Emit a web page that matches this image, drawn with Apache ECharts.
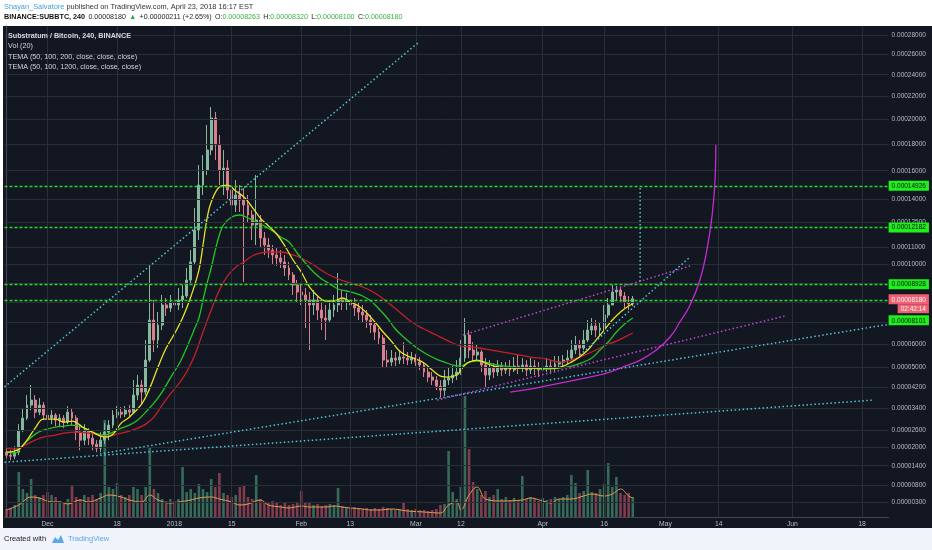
<!DOCTYPE html>
<html><head><meta charset="utf-8">
<script src="https://cdn.jsdelivr.net/npm/echarts@6/dist/echarts.min.js"></script>
<style>html,body{margin:0;padding:0;background:#fff}#c{width:932px;height:550px}</style>
</head><body><div id="c"></div>
<script>
// ================= DATA (prices in satoshi = 1e-8 BTC) =================
const firstDay = '2017-11-21';
const nDays = 216;                       // Nov 21 2017 .. Jun 23 2018
// daily candles from 2017-11-21 to 2018-04-23
const open = [1839,1741,1708,1839,2590,3022,3505,3694,3242,3505,3132,3022,3132,2949,3022,2877,3242,3022,2521,2245,2590,2314,2109,1973,2245,2521,2770,3132,3242,3169,3315,3242,3888,4282,4004,5315,7128,6196,6892,7865,7715,8015,7865,8115,8320,9157,10146,12029,14980,16048,17546,20128,17937,16048,16196,14632,13622,14292,13952,13622,12972,12340,12650,11543,11126,10830,10544,10372,10146,9810,9428,8893,8525,8372,8115,7865,8115,7615,7226,7128,7615,7865,8115,8015,8115,7865,7715,7518,7372,7128,6892,6564,6288,5315,5231,5402,5315,5446,5402,5315,5402,5231,5105,4812,4606,4482,4241,4081,4482,4564,4688,4812,5402,6426,5751,5533,5664,5105,4688,4978,4812,5062,4894,4978,4894,5062,4978,5105,4894,5062,4978,4894,5020,5062,4978,5147,5231,5315,5402,5751,5974,5840,6196,6656,6845,6656,6750,7372,7865,8525,8628,8320,8015,7915];
const high = [1973,1905,2041,2805,3391,3888,4282,3888,3771,3620,3242,3315,3205,3169,3132,3467,3391,3132,2770,2805,2662,2487,2245,2521,2841,2949,3315,3467,3429,3467,3505,4482,4688,4482,6196,9866,8115,7518,8372,8218,8372,8628,8734,8893,9810,10830,13425,16417,17166,19544,21068,20636,18729,17546,16786,15688,15328,14980,14771,14292,13293,15688,12972,11907,11543,11126,10948,10830,10544,10146,9590,9157,8893,8734,8525,8628,8372,8015,7865,8115,8372,9536,8628,8474,8372,8218,8015,7865,7615,7372,7034,6750,6426,5751,5751,5664,5751,6107,5664,5664,5577,5446,5231,4978,4812,4647,4482,4894,5020,5062,5315,6196,7226,6656,6107,5974,5751,5402,5315,5189,5315,5231,5231,5315,5446,5533,5402,5315,5402,5315,5231,5315,5402,5315,5489,5489,5533,5751,6196,6380,6196,6656,7128,7226,7128,7034,7865,8218,8893,8840,8787,8525,8320,8320];
const low = [1643,1577,1610,1741,2521,2949,3315,3022,3132,2949,2805,2805,2734,2698,2662,2805,2770,2245,1905,2075,2075,1905,1839,1839,2109,2245,2662,3022,3022,3059,3022,3169,3694,3505,3888,5231,5664,5840,6656,7323,7518,7518,7615,7715,8218,8893,9978,11421,14292,15688,17166,16786,14980,14292,13952,9810,13164,13164,9051,12526,11421,11126,10948,10544,10372,9978,9922,9810,9374,9157,8372,8015,7865,6750,5751,7372,7128,6656,6196,7034,7274,7518,7615,7615,7518,7323,7128,7034,6750,6518,6196,5974,5020,5020,5062,5062,5147,5147,5105,5147,5062,4894,4606,4402,4282,4081,3810,3849,4282,4362,4482,4688,5231,5402,5231,5315,4812,4201,4482,4564,4647,4647,4730,4647,4812,4730,4812,4647,4730,4688,4606,4730,4812,4730,4812,4978,5062,5147,5315,5577,5489,5751,6107,6426,6334,6380,6656,7226,7865,8115,7965,7715,7615,7815];
const close = [1741,1708,1839,2590,3022,3505,3694,3242,3505,3132,3022,3132,2949,3022,2877,3242,3022,2521,2245,2590,2314,2109,1973,2245,2521,2770,3132,3242,3169,3315,3242,3888,4282,4004,5315,7128,6196,6892,7865,7715,8015,7865,8115,8320,9157,10146,12029,14980,16048,17546,20128,17937,16048,16196,14632,13622,14292,13952,13622,12972,12340,12650,11543,11126,10830,10544,10372,10146,9810,9428,8893,8525,8372,8115,7865,8115,7615,7226,7128,7615,7865,8115,8015,8115,7865,7715,7518,7372,7128,6892,6564,6288,5315,5231,5402,5315,5446,5402,5315,5402,5231,5105,4812,4606,4482,4241,4081,4482,4564,4688,4812,5402,6426,5751,5533,5664,5105,4688,4978,4812,5062,4894,4978,4894,5062,4978,5105,4894,5062,4978,4894,5020,5062,4978,5147,5231,5315,5402,5751,5974,5840,6196,6656,6845,6656,6750,7372,7865,8525,8628,8320,8015,7915,8180];
const volume = [8,9,12,45,28,24,38,22,20,22,25,22,20,16,14,18,31,20,18,22,20,22,18,24,97,30,28,34,22,20,22,30,28,22,30,70,28,24,18,16,18,16,18,50,25,28,24,33,28,25,38,30,44,24,22,20,22,30,32,20,18,42,18,15,14,16,14,12,14,12,13,15,26,15,14,12,13,11,12,13,12,29,11,10,9,10,9,8,9,8,9,8,10,9,8,7,8,14,8,7,8,7,7,6,7,8,12,13,66,25,18,30,121,68,35,28,22,26,20,22,28,18,20,17,19,16,41,18,20,18,16,19,17,18,20,18,20,22,42,34,24,26,47,25,24,28,33,54,30,40,24,22,24,20];
// Vol(20) moving average, [day index, value]
const volMA = [[0,7],[3,12],[6,20],[8,19],[11,15],[13,15],[15,13],[18,17],[20,15],[23,19],[25,22],[28,20],[30,17],[33,15],[35,22],[37,17],[40,14],[42,15],[45,17],[47,19],[50,20],[52,18],[55,15],[57,12],[59,13],[62,17],[64,12],[67,10],[69,9],[72,11],[74,10],[78,10],[80,11],[82,10],[84,9],[87,8],[89,7],[91,7],[94,8],[98,6],[102,5],[106,4],[108,12],[110,15],[111,7],[113,22],[115,30],[117,18],[121,16],[126,17],[128,19],[131,16],[133,14],[135,18],[138,18],[141,21],[143,23],[146,21],[148,23],[150,28],[152,21],[153,19]];
// TEMA (50,100,200) lines, [day index, price]
const temaFast = [[0,1839],[3,1939],[5,2245],[7,2662],[9,2985],[12,2985],[14,2877],[16,2913],[19,2662],[21,2521],[24,2349],[26,2452],[28,2841],[30,3059],[33,3543],[35,4161],[37,5020],[39,5840],[41,6472],[43,7226],[45,8269],[47,9698],[48,11126],[49,12774],[50,13820],[52,14840],[54,14980],[56,14564],[58,14156],[60,13490],[62,12774],[64,12278],[66,11785],[68,11067],[70,10258],[72,9590],[74,8787],[76,8320],[78,8065],[80,8065],[82,8218],[84,8015],[86,7815],[88,7469],[90,7034],[92,6564],[94,6152],[96,5707],[98,5489],[100,5359],[102,5189],[104,4894],[106,4647],[108,4606],[110,4688],[111,4894],[112,5105],[113,5231],[115,5315],[117,5189],[119,5062],[122,4978],[126,4978],[130,4978],[134,4978],[136,5062],[138,5231],[140,5446],[142,5751],[144,6196],[146,6656],[148,7128],[150,7518],[152,7815],[153,7915]];
const temaMid = [[0,1839],[2,1806],[4,2075],[7,2452],[9,2590],[12,2698],[14,2734],[16,2770],[19,2662],[21,2521],[24,2418],[26,2521],[28,2662],[30,2770],[32,2949],[34,3242],[36,3580],[38,4004],[40,4564],[42,5105],[43,5446],[45,6288],[46,6750],[47,7226],[48,8115],[49,8998],[50,9810],[51,10830],[52,11725],[53,12340],[55,12842],[57,12972],[59,12774],[61,12526],[63,12278],[65,11968],[67,11604],[69,11303],[71,10658],[73,10090],[75,9590],[77,9211],[79,8946],[81,8681],[83,8577],[85,8474],[87,8320],[89,8065],[91,7665],[93,7226],[95,6703],[97,6334],[99,6018],[101,5751],[103,5533],[105,5359],[107,5231],[109,5105],[111,5062],[113,5231],[115,5273],[117,5231],[120,5105],[124,5020],[128,4978],[132,4936],[135,4978],[138,5062],[141,5231],[143,5402],[145,5751],[147,6107],[149,6564],[151,6939],[153,7226]];
const temaSlow = [[0,1973],[2,1939],[4,2041],[7,2245],[9,2349],[12,2418],[14,2487],[17,2521],[20,2487],[23,2418],[25,2384],[27,2452],[30,2555],[32,2662],[34,2805],[36,3059],[38,3505],[40,3926],[42,4322],[44,4812],[46,5533],[48,6564],[50,7615],[52,8628],[54,9374],[56,9866],[58,10146],[60,10487],[62,10658],[64,10715],[67,10715],[70,10544],[72,10372],[75,9978],[78,9536],[81,9211],[84,8998],[87,8787],[90,8474],[93,8015],[96,7518],[99,7034],[102,6703],[105,6426],[108,6152],[111,5929],[114,5884],[117,5795],[120,5707],[124,5577],[128,5446],[132,5359],[135,5231],[137,5273],[140,5446],[143,5664],[146,5929],[149,6152],[151,6334],[153,6518]];
// drawings: [day index, price]
const cyanTrends = [
  [[-0.5,4211],[100.5,27157]],
  [[-0.5,1511],[211.7,3694]],
  [[22.8,1784],[215.1,6911]],
  [[140.1,5533],[167.0,10430]],
  [[154.8,14771],[154.8,9051]]
];
const magentaTrends = [
  [[111.5,6426],[167.0,9922]],
  [[105.2,3694],[190.2,7323]]
];
const magentaArc = [[123.0,4004],[127.9,4121],[132.8,4282],[137.7,4442],[142.5,4606],[147.4,4812],[151.1,5062],[154.8,5315],[158.4,5707],[162.1,6334],[164.5,7034],[167.0,7865],[169.4,9157],[171.1,10830],[172.4,12972],[173.1,15328],[173.3,17937]];
const levelPrices = [14926, 12182, 8928, 8101];
const lastPrice = 8180;
const countdown = '02:42:14';
const priceTicks = [28000,26000,24000,22000,20000,18000,16000,14000,12500,11000,10000,9000,8000,7000,6000,5000,4200,3400,2600,2000,1400,800,300];
const timeTickDates = ['2017-12-01','2017-12-18','2018-01-01','2018-01-15','2018-02-01','2018-02-13','2018-03-01','2018-03-12','2018-04-01','2018-04-16','2018-05-01','2018-05-14','2018-06-01','2018-06-18'];
const timeTickLabels = ['Dec','18','2018','15','Feb','13','Mar','12','Apr','16','May','14','Jun','18'];
const yRange = [-122, 28960];   // visible price range of the pane
// ======================================================================

// TradingView-like price scale: logarithmic in (price + SHIFT)
const SHIFT = 10000;
const sh = v => v + SHIFT;
const fmt = v => (v / 1e8).toFixed(8);
const FONT = '"Liberation Sans", Arial, sans-serif';

const cats = [];
const t0 = Date.parse(firstDay + 'T00:00:00Z');
for (let i = 0; i < nDays; i++) cats.push(new Date(t0 + i * 86400000).toISOString().slice(0, 10));
const timeTicks = {};
timeTickDates.forEach((d, k) => timeTicks[d] = timeTickLabels[k]);

const UP = '#86b89e', DOWN = '#d9808f';
const candleData = open.map((o, i) => [sh(o), sh(close[i]), sh(low[i]), sh(high[i])]);
const shiftPts = arr => arr.map(p => [p[0], sh(p[1])]);

const series = [];
// grid lines + price labels
series.push({
  type: 'line', xAxisIndex: 1, yAxisIndex: 0, data: [], z: 1, clip: false, silent: true,
  markLine: {
    silent: true, symbol: ['none', 'none'], animation: false,
    lineStyle: { color: '#2a2e39', width: 1, type: 'solid' },
    label: { show: true, position: 'end', distance: 3, color: '#b8bbc4', fontSize: 6.5, fontFamily: FONT },
    data: priceTicks.map(v => ({ yAxis: sh(v), label: { formatter: fmt(v) } }))
      .concat(timeTickDates.map(d => ({ xAxis: cats.indexOf(d), label: { show: false } })))
  }
});
// volume
series.push({
  type: 'bar', xAxisIndex: 0, yAxisIndex: 1, data: volume, barWidth: 2.6, z: 2,
  itemStyle: { opacity: 0.6, color: p => close[p.dataIndex] >= open[p.dataIndex] ? '#4fa37e' : '#c8566b' }
});
series.push({ type: 'line', xAxisIndex: 1, yAxisIndex: 1, data: volMA, smooth: 0.4, symbol: 'none', z: 3,
  lineStyle: { color: '#e9994f', width: 1 } });
// candles
series.push({
  type: 'candlestick', xAxisIndex: 0, yAxisIndex: 0, data: candleData, barWidth: 2.4, z: 3,
  itemStyle: { color: UP, color0: DOWN, borderColor: UP, borderColor0: DOWN, borderWidth: 1 }
});
// TEMA lines
[[temaSlow, '#c81e28'], [temaMid, '#25c425'], [temaFast, '#e6e424']].forEach(([d, c]) => series.push({
  type: 'line', xAxisIndex: 1, yAxisIndex: 0, data: shiftPts(d), smooth: 0.4, symbol: 'none', z: 4,
  lineStyle: { color: c, width: 1.3 }
}));
// drawings
cyanTrends.forEach(seg => series.push({ type: 'line', xAxisIndex: 1, yAxisIndex: 0, data: shiftPts(seg), symbol: 'none', z: 5,
  lineStyle: { color: '#4fc6d3', width: 1.5, type: [1.5, 2.5] } }));
magentaTrends.forEach(seg => series.push({ type: 'line', xAxisIndex: 1, yAxisIndex: 0, data: shiftPts(seg), symbol: 'none', z: 5,
  lineStyle: { color: '#c446d8', width: 1.5, type: [1.5, 2.5] } }));
series.push({ type: 'line', xAxisIndex: 1, yAxisIndex: 0, data: shiftPts(magentaArc), smooth: 0.5, symbol: 'none', z: 5,
  lineStyle: { color: '#c52bd0', width: 1.3 } });
// horizontal levels with labels
const greenLbl = { backgroundColor: '#1ef01e', color: '#0a0a0a', padding: [2, 3, 1, 3], fontSize: 6.5, fontFamily: FONT };
series.push({
  type: 'line', xAxisIndex: 1, yAxisIndex: 0, data: [], z: 6, clip: false, silent: true,
  markLine: {
    silent: true, symbol: ['none', 'none'], animation: false,
    lineStyle: { color: '#2ad82a', width: 1.4, type: [3, 2] },
    label: Object.assign({ show: true, position: 'end', distance: 0 }, greenLbl),
    data: levelPrices.map((v, k) => k === levelPrices.length - 1
      ? { yAxis: sh(v), label: { formatter: '{e| }\n{g|' + fmt(v) + '}', backgroundColor: 'transparent', padding: 0,
          rich: { e: { height: 40 }, g: greenLbl } } }
      : { yAxis: sh(v), label: { formatter: fmt(v) } })
  }
});
const redLbl = { backgroundColor: '#ef5f72', color: '#ffffff', fontSize: 6.5, fontFamily: FONT };
series.push({
  type: 'line', xAxisIndex: 1, yAxisIndex: 0, data: [], z: 7, clip: false, silent: true,
  markLine: {
    silent: true, symbol: ['none', 'none'], animation: false,
    lineStyle: { color: 'rgba(0,0,0,0)', width: 0.1, type: 'solid' },
    label: { show: true, position: 'end', distance: 0, formatter: '{e| }\n{p|' + fmt(lastPrice) + '}\n{t|' + countdown + '}',
      backgroundColor: 'transparent', padding: 0,
      rich: { e: { height: 10 }, p: Object.assign({ padding: [2, 3, 1, 3] }, redLbl),
              t: Object.assign({ padding: [1, 3, 1, 3], align: 'right' }, redLbl) } },
    data: [{ yAxis: sh(lastPrice) }]
  }
});

const txt = (x, y, text, size, color, weight) => ({ type: 'text', x, y, z: 100, silent: true,
  style: { text, fill: color, fontSize: size, fontFamily: FONT, fontWeight: weight || 'normal', verticalAlign: 'middle' } });

const option = {
  backgroundColor: '#ffffff',
  animation: false,
  grid: { left: 4.5, top: 26, width: 884.1, height: 491 },
  xAxis: [
    { type: 'category', data: cats, boundaryGap: true,
      axisLine: { show: true, lineStyle: { color: '#434651' } }, axisTick: { show: false },
      axisLabel: { interval: (i, v) => v in timeTicks, formatter: v => timeTicks[v] || '', color: '#b8bbc4',
        fontSize: 6.8, fontFamily: FONT, margin: 4, hideOverlap: false },
      splitLine: { show: false } },
    { type: 'value', min: -0.5, max: nDays - 0.5, show: false }
  ],
  yAxis: [
    { type: 'log', position: 'right', min: sh(yRange[0]), max: sh(yRange[1]),
      axisLine: { show: true, lineStyle: { color: '#434651' } }, axisLabel: { show: false },
      axisTick: { show: false }, splitLine: { show: false } },
    { type: 'value', min: 0, max: 491, show: false }
  ],
  graphic: [
    { type: 'rect', z: -10, silent: true, shape: { x: 3, y: 26, width: 929, height: 502 }, style: { fill: '#131722' } },
    { type: 'rect', z: -10, silent: true, shape: { x: 0, y: 528, width: 932, height: 22 }, style: { fill: '#f0f3fa' } },
    { type: 'text', x: 4, y: 7, z: 100, silent: true, style: {
      text: '{a|Shayan_Salvatore}{b| published on TradingView.com, April 23, 2018 16:17 EST}', verticalAlign: 'middle',
      rich: { a: { fill: '#3d9ee0', fontSize: 7.4, fontFamily: FONT }, b: { fill: '#333333', fontSize: 7.4, fontFamily: FONT } } } },
    { type: 'text', x: 4, y: 17, z: 100, silent: true, style: {
      text: '{k|BINANCE:SUBBTC, 240} {n|0.00008180} {g|▲} {n|+0.00000211 (+2.65%)} {n|O:}{v|0.00008263} {n|H:}{v|0.00008320} {n|L:}{v|0.00008100} {n|C:}{v|0.00008180}',
      verticalAlign: 'middle',
      rich: { k: { fill: '#111', fontSize: 7.2, fontWeight: 'bold', fontFamily: FONT },
              n: { fill: '#222', fontSize: 7.1, fontFamily: FONT },
              g: { fill: '#2fa84f', fontSize: 7.1, fontFamily: FONT },
              v: { fill: '#3cb043', fontSize: 7.1, fontFamily: FONT } } } },
    txt(8, 36, 'Substratum / Bitcoin, 240, BINANCE', 7.2, '#d6d9e0', 'bold'),
    txt(8, 46.5, 'Vol (20)', 7.2, '#d1d4dc'),
    txt(8, 57, 'TEMA (50, 100, 200, close, close, close)', 7.2, '#d1d4dc'),
    txt(8, 67.5, 'TEMA (50, 100, 1200, close, close, close)', 7.2, '#d1d4dc'),
    txt(4, 539, 'Created with', 7.5, '#222'),
    { type: 'polygon', z: 100, silent: true, shape: { points: [[52, 543], [55, 537], [58, 540], [61, 535], [64, 543]] }, style: { fill: '#5aa9e6' } },
    txt(68, 539, 'TradingView', 7.5, '#5aa9e6')
  ],
  series
};
const chart = echarts.init(document.getElementById('c'), null, { renderer: 'canvas' });
chart.setOption(option);
</script></body></html>
